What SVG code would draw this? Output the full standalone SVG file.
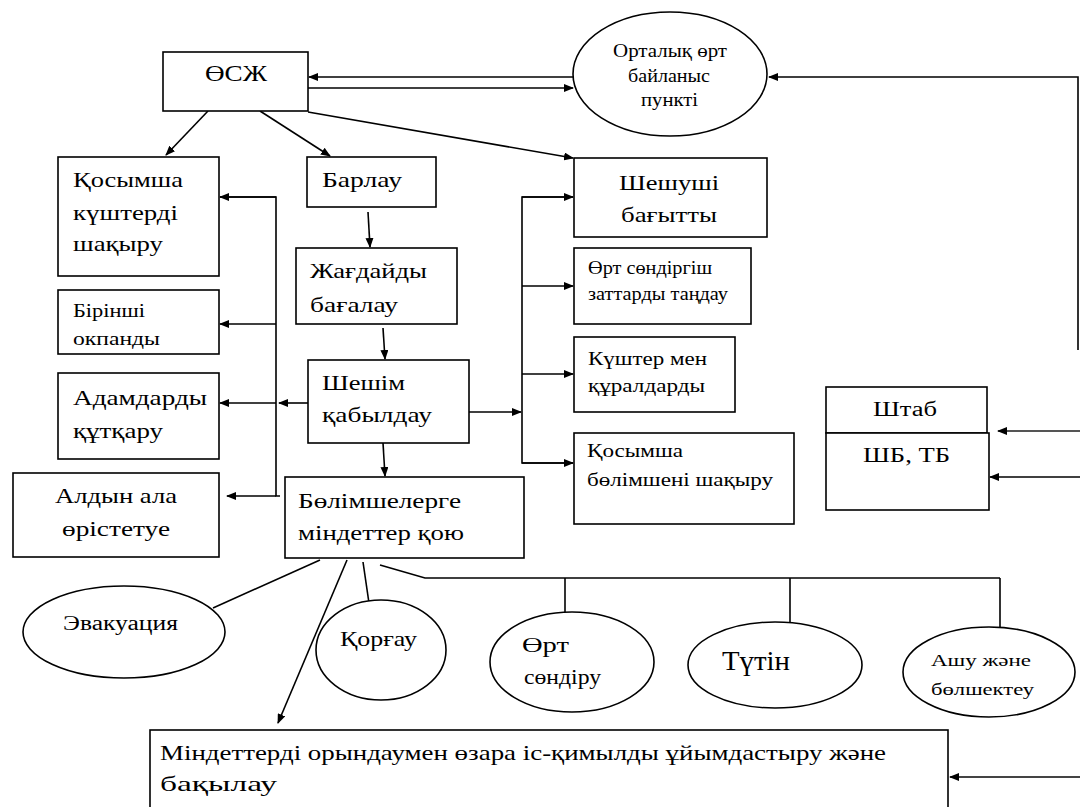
<svg xmlns="http://www.w3.org/2000/svg" width="1080" height="807" viewBox="0 0 1080 807" font-family="Liberation Serif, DejaVu Serif, serif">
<defs>
<marker id="ah" markerWidth="10" markerHeight="8" refX="9" refY="4" orient="auto" markerUnits="userSpaceOnUse">
<path d="M0,0 L10,4 L0,8 Z" fill="#000"/>
</marker>
<style>
.b{fill:#fff;stroke:#000;stroke-width:1.6}
.c{fill:none;stroke:#000;stroke-width:1.6}
.a{fill:none;stroke:#000;stroke-width:1.6;marker-end:url(#ah)}
text{font-family:"Liberation Serif","DejaVu Serif",serif;fill:#000}
.t24{font-size:24px}
.t22{font-size:22px}
.t20{font-size:20px}
.t19{font-size:19px}
.t18{font-size:18px}
.t17{font-size:17px}
.t27{font-size:27px}
</style>
</defs>
<rect width="1080" height="807" fill="#fff"/>

<g id="connectors">
<line class="a" x1="573" y1="77" x2="309" y2="77"/>
<line class="a" x1="308" y1="88" x2="573" y2="88"/>
<polyline class="a" points="1078,350 1078,77 769,77"/>
<line class="a" x1="208" y1="111" x2="166" y2="155"/>
<line class="a" x1="260" y1="111" x2="330" y2="156"/>
<line class="a" x1="308" y1="112" x2="573" y2="158"/>
<line class="a" x1="368" y1="212" x2="370" y2="247"/>
<line class="a" x1="383" y1="328" x2="385" y2="359"/>
<line class="a" x1="383" y1="443" x2="385" y2="476"/>
<line class="a" x1="308" y1="403" x2="279" y2="403"/>
<polyline class="c" points="220,197 276,197 276,496 280,496"/>
<line class="a" x1="276" y1="197" x2="220" y2="197"/>
<line class="a" x1="276" y1="324" x2="220" y2="324"/>
<line class="a" x1="276" y1="403" x2="220" y2="403"/>
<line class="a" x1="276" y1="496" x2="227" y2="496"/>
<line class="a" x1="469" y1="412" x2="521" y2="412"/>
<polyline class="c" points="573,197 522,197 522,463 573,463"/>
<line class="a" x1="522" y1="197" x2="573" y2="197"/>
<line class="a" x1="522" y1="286" x2="573" y2="286"/>
<line class="a" x1="522" y1="374" x2="573" y2="374"/>
<line class="a" x1="522" y1="463" x2="573" y2="463"/>
<line class="a" x1="1080" y1="431" x2="998" y2="431" style="stroke:#555;stroke-width:2"/>
<line class="a" x1="1080" y1="477" x2="990" y2="477"/>
<line class="a" x1="1080" y1="777" x2="950" y2="777" style="stroke:#444;stroke-width:2"/>
<line class="c" x1="320" y1="560" x2="213" y2="608"/>
<line class="a" x1="347" y1="560" x2="278" y2="723"/>
<line class="c" x1="363" y1="562" x2="370" y2="610"/>
<polyline class="c" points="380,565 425,578 1000,578"/>
<line class="c" x1="565" y1="578" x2="565" y2="613"/>
<line class="c" x1="790" y1="578" x2="790" y2="623"/>
<line class="c" x1="1000" y1="578" x2="1000" y2="628"/>
</g>

<g id="n-osj"><rect class="b" x="163" y="52" width="145" height="59"/><text class="t24" x="205" y="81" textLength="62" lengthAdjust="spacingAndGlyphs">ӨСЖ</text></g>

<g id="n-ortalyk"><ellipse class="b" cx="670" cy="74" rx="97" ry="62"/>
<text class="t19" x="613" y="57" textLength="114" lengthAdjust="spacingAndGlyphs">Орталық өрт</text>
<text class="t19" x="628" y="82" textLength="82" lengthAdjust="spacingAndGlyphs">байланыс</text>
<text class="t19" x="641" y="106" textLength="57" lengthAdjust="spacingAndGlyphs">пункті</text></g>

<g id="n-kosymsha"><rect class="b" x="58" y="157" width="161" height="119"/>
<text class="t22" x="73" y="187" textLength="110" lengthAdjust="spacingAndGlyphs">Қосымша</text>
<text class="t22" x="73" y="220" textLength="105" lengthAdjust="spacingAndGlyphs">күштерді</text>
<text class="t22" x="73" y="251" textLength="90" lengthAdjust="spacingAndGlyphs">шақыру</text></g>

<g id="n-birinshi"><rect class="b" x="58" y="290" width="161" height="64"/>
<text class="t18" x="73" y="317" textLength="72" lengthAdjust="spacingAndGlyphs">Бірінші</text>
<text class="t18" x="73" y="345" textLength="87" lengthAdjust="spacingAndGlyphs">окпанды</text></g>

<g id="n-adamdar"><rect class="b" x="58" y="373" width="161" height="86"/>
<text class="t22" x="73" y="405" textLength="134" lengthAdjust="spacingAndGlyphs">Адамдарды</text>
<text class="t22" x="73" y="438" textLength="90" lengthAdjust="spacingAndGlyphs">құтқару</text></g>

<g id="n-aldyn"><rect class="b" x="13" y="473" width="206" height="84"/>
<text class="t22" x="55" y="503" textLength="122" lengthAdjust="spacingAndGlyphs">Алдын ала</text>
<text class="t22" x="62" y="536" textLength="108" lengthAdjust="spacingAndGlyphs">өрістетуе</text></g>

<g id="n-barlau"><rect class="b" x="307" y="157" width="129" height="50"/>
<text class="t22" x="322" y="187" textLength="80" lengthAdjust="spacingAndGlyphs">Барлау</text></g>

<g id="n-zhagdai"><rect class="b" x="296" y="248" width="161" height="76"/>
<text class="t22" x="310" y="278" textLength="117" lengthAdjust="spacingAndGlyphs">Жағдайды</text>
<text class="t22" x="310" y="312" textLength="88" lengthAdjust="spacingAndGlyphs">бағалау</text></g>

<g id="n-sheshim"><rect class="b" x="308" y="360" width="161" height="83"/>
<text class="t22" x="322" y="390" textLength="83" lengthAdjust="spacingAndGlyphs">Шешім</text>
<text class="t22" x="322" y="422" textLength="110" lengthAdjust="spacingAndGlyphs">қабылдау</text></g>

<g id="n-bolimshe"><rect class="b" x="285" y="477" width="239" height="81"/>
<text class="t22" x="298" y="508" textLength="163" lengthAdjust="spacingAndGlyphs">Бөлімшелерге</text>
<text class="t22" x="298" y="540" textLength="166" lengthAdjust="spacingAndGlyphs">міндеттер қою</text></g>

<g id="n-sheshushi"><rect class="b" x="574" y="158" width="193" height="79"/>
<text class="t22" x="619" y="190" textLength="100" lengthAdjust="spacingAndGlyphs">Шешуші</text>
<text class="t22" x="621" y="222" textLength="96" lengthAdjust="spacingAndGlyphs">бағытты</text></g>

<g id="n-ort-sondirgish"><rect class="b" x="574" y="248" width="177" height="76"/>
<text class="t18" x="588" y="274" textLength="124" lengthAdjust="spacingAndGlyphs">Өрт сөндіргіш</text>
<text class="t18" x="588" y="300" textLength="140" lengthAdjust="spacingAndGlyphs">заттарды таңдау</text></g>

<g id="n-kushter"><rect class="b" x="574" y="337" width="161" height="75"/>
<text class="t19" x="588" y="365" textLength="119" lengthAdjust="spacingAndGlyphs">Күштер мен</text>
<text class="t19" x="588" y="392" textLength="117" lengthAdjust="spacingAndGlyphs">құралдарды</text></g>

<g id="n-kosymsha-bol"><rect class="b" x="574" y="433" width="220" height="91"/>
<text class="t18" x="587" y="457" textLength="96" lengthAdjust="spacingAndGlyphs">Қосымша</text>
<text class="t18" x="587" y="486" textLength="186" lengthAdjust="spacingAndGlyphs">бөлімшені шақыру</text></g>

<g id="n-shtab"><rect class="b" x="826" y="387" width="161" height="46"/>
<text class="t20" x="873" y="416" textLength="64" lengthAdjust="spacingAndGlyphs">Штаб</text>
<rect class="b" x="826" y="433" width="163" height="77"/>
<text class="t20" x="863" y="462" textLength="87" lengthAdjust="spacingAndGlyphs">ШБ, ТБ</text></g>

<g id="n-evak"><ellipse class="b" cx="124" cy="632" rx="101" ry="46"/>
<text class="t20" x="63" y="630" textLength="115" lengthAdjust="spacingAndGlyphs">Эвакуация</text></g>

<g id="n-korgau"><ellipse class="b" cx="381" cy="650" rx="65" ry="50"/>
<text class="t22" x="340" y="646" textLength="77" lengthAdjust="spacingAndGlyphs">Қорғау</text></g>

<g id="n-ort-sondiru"><ellipse class="b" cx="572" cy="662" rx="82" ry="50"/>
<text class="t22" x="522" y="652" textLength="47" lengthAdjust="spacingAndGlyphs">Өрт</text>
<text class="t22" x="524" y="684" textLength="77" lengthAdjust="spacingAndGlyphs">сөндіру</text></g>

<g id="n-tutin"><ellipse class="b" cx="775" cy="665" rx="87" ry="43"/>
<text class="t27" x="722" y="670" textLength="68" lengthAdjust="spacingAndGlyphs">Түтін</text></g>

<g id="n-ashu"><ellipse class="b" cx="989" cy="672" rx="86" ry="45"/>
<text class="t17" x="931" y="666" textLength="100" lengthAdjust="spacingAndGlyphs">Ашу және</text>
<text class="t17" x="931" y="695" textLength="103" lengthAdjust="spacingAndGlyphs">бөлшектеу</text></g>

<g id="n-bottom"><rect class="b" x="150" y="730" width="798" height="90"/>
<text class="t22" x="160" y="760" textLength="726" lengthAdjust="spacingAndGlyphs">Міндеттерді орындаумен өзара іс-қимылды ұйымдастыру және</text>
<text class="t22" x="160" y="791" textLength="117" lengthAdjust="spacingAndGlyphs">бақылау</text></g>
</svg>
